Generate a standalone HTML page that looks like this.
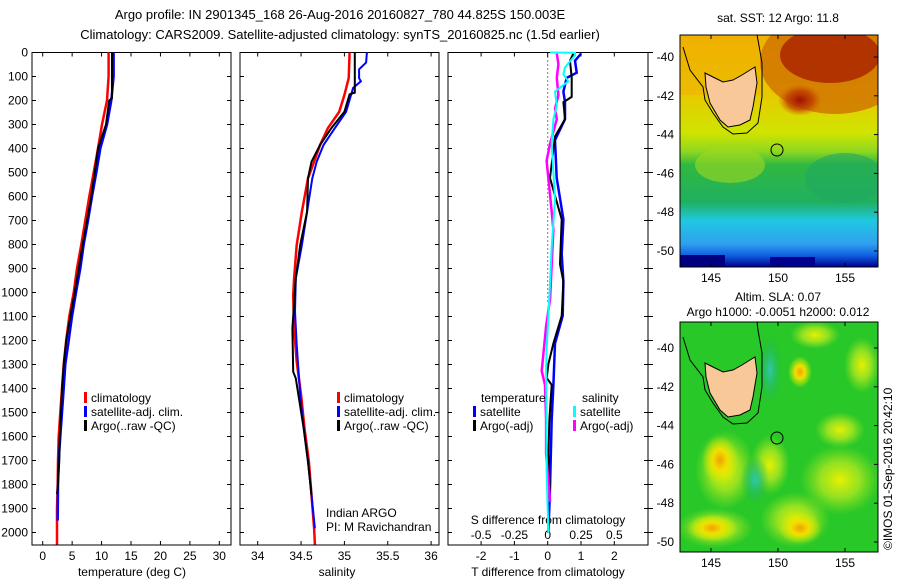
<!DOCTYPE html>
<html><head><meta charset="utf-8"><style>
body{margin:0;background:#fff;}
svg{display:block;font-family:"Liberation Sans",sans-serif;}
text{font-size:12px;fill:#000;}
</style></head><body>
<svg id="chart" width="900" height="580" viewBox="0 0 900 580" xmlns="http://www.w3.org/2000/svg">
<defs>
<linearGradient id="sstGrad" x1="0" y1="0" x2="0" y2="1">
<stop offset="0" stop-color="#f0b000"/>
<stop offset="0.25" stop-color="#e8c800"/>
<stop offset="0.42" stop-color="#d0e400"/>
<stop offset="0.5" stop-color="#90d820"/>
<stop offset="0.56" stop-color="#30b840"/>
<stop offset="0.72" stop-color="#20b060"/>
<stop offset="0.8" stop-color="#20c8e0"/>
<stop offset="0.9" stop-color="#30a0f0"/>
<stop offset="0.95" stop-color="#1060e0"/>
<stop offset="1" stop-color="#000090"/>
</linearGradient>
<radialGradient id="redBlob"><stop offset="0" stop-color="#a01000"/><stop offset="0.6" stop-color="#c04000" stop-opacity="0.8"/><stop offset="1" stop-color="#d06000" stop-opacity="0"/></radialGradient>
<radialGradient id="yelBlob"><stop offset="0" stop-color="#f0a000"/><stop offset="0.4" stop-color="#f0e000"/><stop offset="1" stop-color="#d0f000" stop-opacity="0"/></radialGradient>
<radialGradient id="ltBlob"><stop offset="0" stop-color="#e8f000"/><stop offset="0.5" stop-color="#b0e820" stop-opacity="0.8"/><stop offset="1" stop-color="#90e020" stop-opacity="0"/></radialGradient>
<radialGradient id="teaBlob"><stop offset="0" stop-color="#30c8b0"/><stop offset="1" stop-color="#20b050" stop-opacity="0"/></radialGradient>
<clipPath id="clipTop"><rect x="680" y="35" width="198" height="232"/></clipPath>
<clipPath id="clipBot"><rect x="680" y="322" width="198" height="230"/></clipPath>
</defs>

<text x="340" y="19" text-anchor="middle" style="font-size:13px">Argo profile: IN 2901345_168 26-Aug-2016 20160827_780 44.825S 150.003E</text>
<text x="340" y="39" text-anchor="middle" style="font-size:13px">Climatology: CARS2009. Satellite-adjusted climatology: synTS_20160825.nc (1.5d earlier)</text>

<g id="p1"></g>
<g id="p2"></g>
<g id="p3"></g>

<!-- SST map -->
<g>
<text x="778" y="22" text-anchor="middle">sat. SST: 12 Argo: 11.8</text>
<g clip-path="url(#clipTop)">
<rect x="680" y="35" width="198" height="232" fill="url(#sstGrad)"/>
<ellipse cx="835" cy="62" rx="75" ry="52" fill="#d07000" opacity="0.8"/>
<ellipse cx="830" cy="55" rx="50" ry="28" fill="#a82000" opacity="0.8"/>
<ellipse cx="800" cy="100" rx="22" ry="16" fill="url(#redBlob)"/>
<rect x="680" y="35" width="80" height="60" fill="#f0b000" opacity="0.5"/>
<ellipse cx="845" cy="178" rx="40" ry="25" fill="#20a860" opacity="0.6"/>
<ellipse cx="730" cy="165" rx="35" ry="18" fill="#a0d820" opacity="0.6"/>
<rect x="680" y="255" width="45" height="12" fill="#000080"/>
<rect x="770" y="257" width="45" height="10" fill="#000090"/>
<polygon points="705,73 713,77 723,82 733,80 742,75 750,70 755,67 757,83 753,107 750,120 740,125 728,127 720,120 710,103 706,87" fill="#f8c898" stroke="#000" stroke-width="1"/>
<polyline points="683,47 690,70 703,87 705,100 713,113 723,127 733,134 747,133 758,123 762,97 762,63 758,40 757,35" fill="none" stroke="#000" stroke-width="1"/>
<circle cx="777" cy="150" r="6" fill="none" stroke="#000" stroke-width="1"/>
</g>
<rect x="680" y="35" width="198" height="232" fill="none" stroke="#000"/>
</g>

<!-- SLA map -->
<g>
<text x="778" y="301" text-anchor="middle">Altim. SLA: 0.07</text>
<text x="778" y="316" text-anchor="middle">Argo h1000: -0.0051 h2000: 0.012</text>
<g clip-path="url(#clipBot)">
<rect x="680" y="322" width="198" height="230" fill="#28c828"/>
<ellipse cx="725" cy="470" rx="30" ry="40" fill="url(#ltBlob)"/>
<ellipse cx="720" cy="460" rx="18" ry="25" fill="url(#yelBlob)"/>
<ellipse cx="715" cy="528" rx="38" ry="20" fill="url(#ltBlob)"/>
<ellipse cx="712" cy="528" rx="25" ry="14" fill="url(#yelBlob)"/>
<ellipse cx="795" cy="520" rx="35" ry="28" fill="url(#ltBlob)"/>
<ellipse cx="800" cy="528" rx="22" ry="16" fill="url(#yelBlob)"/>
<ellipse cx="800" cy="372" rx="12" ry="16" fill="url(#yelBlob)"/>
<ellipse cx="815" cy="335" rx="25" ry="14" fill="url(#ltBlob)"/>
<ellipse cx="862" cy="365" rx="18" ry="28" fill="url(#ltBlob)"/>
<ellipse cx="840" cy="480" rx="40" ry="35" fill="url(#ltBlob)"/>
<ellipse cx="840" cy="430" rx="25" ry="18" fill="url(#ltBlob)"/>
<ellipse cx="770" cy="465" rx="20" ry="30" fill="url(#ltBlob)"/>
<ellipse cx="770" cy="370" rx="12" ry="35" fill="url(#teaBlob)"/>
<ellipse cx="755" cy="480" rx="14" ry="25" fill="url(#teaBlob)"/>
<polygon points="705,363 713,367 723,372 733,370 742,365 750,360 755,357 757,373 753,397 750,410 740,415 728,417 720,410 710,393 706,377" fill="#f8c898" stroke="#000" stroke-width="1"/>
<polyline points="683,337 690,360 703,377 705,390 713,403 723,417 733,424 747,423 758,413 762,387 762,353 758,330 757,322" fill="none" stroke="#000" stroke-width="1"/>
<circle cx="777" cy="438" r="6" fill="none" stroke="#000" stroke-width="1"/>
</g>
<rect x="680" y="322" width="198" height="230" fill="none" stroke="#000"/>
</g>
<g id="mapAxes"></g>
<text transform="translate(892,550) rotate(-90)" x="0" y="0">©IMOS 01-Sep-2016 20:42:10</text>

<script>
// ---- data ----
const depthTicks=[0,100,200,300,400,500,600,700,800,900,1000,1100,1200,1300,1400,1500,1600,1700,1800,1900,2000];
const tTicks=[0,5,10,15,20,25,30];
const sTicks=[34,34.5,35,35.5,36];
const dTTicks=[-2,-1,0,1,2];
const dSTicks=[-0.5,-0.25,0,0.25,0.5];
const dSLabels=["-0.5","-0.25","0","0.25","0.5"];

const tClimDepth=[0,100,200,300,400,500,600,700,800,900,1000,1100,1200,1300,1400,1500,1600,1700,1800,1900,2050];
const tClim=[11.2,11.2,10.92,10.07,9.39,8.66,7.92,7.24,6.56,5.82,5.26,4.52,4.0,3.56,3.28,2.99,2.71,2.6,2.54,2.43,2.43];
const tSatDepth=[0,100,200,300,400,500,600,700,800,900,1000,1100,1200,1300,1400,1500,1600,1700,1800,1950];
const tSat=[12.05,12.05,11.66,10.92,9.79,9.11,8.37,7.69,6.96,6.39,5.66,4.98,4.41,3.84,3.56,3.28,2.99,2.71,2.6,2.54];
const tArgoDepth=[0,100,190,200,300,400,500,600,700,800,900,1000,1100,1200,1300,1400,1500,1600,1700,1800,1840];
const tArgo=[11.77,11.77,11.77,11.3,10.75,9.39,8.83,8.26,7.52,6.79,6.11,5.43,4.69,4.0,3.56,3.28,3.11,2.88,2.82,2.6,2.43];

const sClimDepth=[0,107,177,247,315,385,455,524,663,802,941,1010,1149,1288,1427,1566,1705,1844,1983,2050];
const sClim=[35.06,35.05,35.0,34.94,34.81,34.72,34.65,34.58,34.51,34.45,34.42,34.41,34.42,34.45,34.50,34.54,34.59,34.62,34.65,34.66];
const sSatDepth=[0,42,70,107,120,148,247,315,385,455,524,663,802,941,1080,1218,1427,1566,1705,1844,1983];
const sSat=[35.26,35.25,35.17,35.17,35.19,35.10,35.02,34.89,34.76,34.68,34.63,34.57,34.51,34.44,34.43,34.45,34.49,34.53,34.58,34.62,34.66];
const sArgoDepth=[0,167,174,247,315,385,455,524,663,802,941,1149,1330,1358,1566,1705,1844];
const sArgo=[35.12,35.12,35.06,35.0,34.85,34.72,34.62,34.58,34.57,34.49,34.44,34.40,34.41,34.44,34.53,34.58,34.62];

const dTSatDepth=[5,34,84,106,163,207,278,365,523,695,839,954,1097,1212,1385,1528,1816,2002];
const dTSat=[1.0,0.82,0.87,0.57,0.47,0.52,0.52,0.22,0.27,0.47,0.42,0.47,0.45,0.22,0.17,0.12,0.07,0.02];
const dTArgoDepth=[5,34,106,185,207,278,350,523,695,882,954,1097,1212,1298,1356,1385,1528,1672,1816,1859];
const dTArgo=[0.77,0.67,0.72,0.72,0.47,0.52,0.22,0.07,0.42,0.37,0.47,0.42,0.17,0.02,-0.03,0.12,0.05,0.02,0.07,0.02];
const dSSatDepth=[0,1,12,62,91,120,163,221,278,379,609,810,954,1097,1241,1327,1528,1744,2002];
const dSSat=[0.018,0.205,0.205,0.13,0.118,0.155,0.055,0.068,0.043,0.03,0.055,0.03,0.018,0.005,-0.008,-0.012,-0.008,-0.008,0.005];
const dSArgoDepth=[5,48,106,177,235,278,379,451,595,739,882,1026,1141,1327,1385,1528,1672,1873];
const dSArgo=[0.068,0.08,0.068,0.08,0.055,0.068,0.018,-0.008,0.018,0.043,0.03,0.018,-0.012,-0.045,-0.02,-0.012,-0.012,0.018];

// ---- axes ----
const NS="http://www.w3.org/2000/svg";
const Y0=52.5, YS=0.24, YTOP=52.5, YBOT=545;
const yD=d=>Y0+d*YS;
const xT=v=>42.7+v*5.887;
const xS=v=>257.7+(v-34)*86.7;
const xDT=v=>547.7+v*33.3;
const xDS=v=>547.7+v*133.2;
function el(tag,attrs,parent,txt){const e=document.createElementNS(NS,tag);for(const k in attrs)e.setAttribute(k,attrs[k]);if(txt!==undefined)e.textContent=txt;parent.appendChild(e);return e;}
function line(depths,vals,xf,color,g,name,w){
  const pts=depths.map((d,i)=>xf(vals[i]).toFixed(1)+","+yD(d).toFixed(1)).join(" ");
  const p=el("polyline",{points:pts,fill:"none",stroke:color,"stroke-width":w||2.5},g);
  
  
}
function frame(g,x0,x1,name){
  const r=el("rect",{x:x0,y:YTOP,width:x1-x0,height:YBOT-YTOP,fill:"none",stroke:"#000"},g);
  
  
  depthTicks.forEach(d=>{el("line",{x1:x0,x2:x0+4,y1:yD(d),y2:yD(d),stroke:"#000"},g);el("line",{x1:x1,x2:x1-4,y1:yD(d),y2:yD(d),stroke:"#000"},g);});
}
function xticks(g,ticks,labels,xf,y,name){
  ticks.forEach((t,i)=>{
    el("line",{x1:xf(t),x2:xf(t),y1:YBOT,y2:YBOT-4,stroke:"#000"},g);
    el("line",{x1:xf(t),x2:xf(t),y1:YTOP,y2:YTOP+4,stroke:"#000"},g);
    const tx=el("text",{x:xf(t),y:y,"text-anchor":"middle"},g,labels[i]);
    
    
  });
}
function legend(g,x,y0,items){
  items.forEach((it,i)=>{
    const y=y0+i*14;
    el("rect",{x:x,y:y-10,width:3,height:11,fill:it[0]},g);
    const t=el("text",{x:x+7,y:y},g,it[1]);
    
    
  });
}
// panel 1
const p1=document.getElementById("p1");
frame(p1,32,231,"temperature-axes");
depthTicks.forEach(d=>{const t=el("text",{x:28,y:yD(d)+4,"text-anchor":"end"},p1,String(d));});
xticks(p1,tTicks,tTicks.map(String),xT,560,"temperature-tick-label");
el("text",{x:132,y:576,"text-anchor":"middle"},p1,"temperature (deg C)");
line(tClimDepth,tClim,xT,"#f00",p1,"temperature-climatology-line");
line(tSatDepth,tSat,xT,"#00f",p1,"temperature-satellite-line");
line(tArgoDepth,tArgo,xT,"#000",p1,"temperature-argo-line",2);
legend(p1,84,402,[["#f00","climatology"],["#00f","satellite-adj. clim."],["#000","Argo(..raw -QC)"]]);
// panel 2
const p2=document.getElementById("p2");
frame(p2,240,439,"salinity-axes");
xticks(p2,sTicks,sTicks.map(String),xS,560,"salinity-tick-label");
el("text",{x:337,y:576,"text-anchor":"middle"},p2,"salinity");
line(sClimDepth,sClim,xS,"#f00",p2,"salinity-climatology-line");
line(sSatDepth,sSat,xS,"#00f",p2,"salinity-satellite-line",2);
line(sArgoDepth,sArgo,xS,"#000",p2,"salinity-argo-line",2);
legend(p2,337,402,[["#f00","climatology"],["#00f","satellite-adj. clim."],["#000","Argo(..raw -QC)"]]);
el("text",{x:326,y:517},p2,"Indian ARGO");
el("text",{x:326,y:531},p2,"PI: M Ravichandran");
// panel 3
const p3=document.getElementById("p3");
frame(p3,448,648,"difference-axes");
depthTicks.forEach(d=>{el("line",{x1:648,x2:653,y1:yD(d),y2:yD(d),stroke:"#000"},p3);});
el("line",{x1:xDT(0),x2:xDT(0),y1:YTOP,y2:yD(1040),stroke:"#000","stroke-dasharray":"1,3"},p3);
xticks(p3,dTTicks,dTTicks.map(String),xDT,560,"t-difference-tick-label");
dSTicks.forEach((t,i)=>{const tx=el("text",{x:xDS(t),y:539,"text-anchor":"middle"},p3,dSLabels[i]);});
el("text",{x:548,y:524,"text-anchor":"middle"},p3,"S difference from climatology");
el("text",{x:548,y:576,"text-anchor":"middle"},p3,"T difference from climatology");
line(dTSatDepth,dTSat,xDT,"#00f",p3,"t-diff-satellite-line");
line(dTArgoDepth,dTArgo,xDT,"#000",p3,"t-diff-argo-line",2);
line(dSArgoDepth,dSArgo,xDS,"#f0f",p3,"s-diff-argo-line");
line(dSSatDepth,dSSat,xDS,"#0ff",p3,"s-diff-satellite-line",2);
el("text",{x:481,y:402},p3,"temperature");
el("text",{x:582,y:402},p3,"salinity");
legend(p3,473,416,[["#00f","satellite"],["#000","Argo(-adj)"]]);
legend(p3,573,416,[["#0ff","satellite"],["#f0f","Argo(-adj)"]]);
// map axes
const ma=document.getElementById("mapAxes");
const latTicks=[-40,-42,-44,-46,-48,-50];
const lonTicks=[145,150,155];
const xLon=v=>711+(v-145)*13.4;
[[57,282,35,267],[348,567,322,552]].forEach(([yl,ylab,yt,yb])=>{
  latTicks.forEach(l=>{const y=yl+(-40-l)*19.4;
    el("line",{x1:874,x2:878,y1:y,y2:y,stroke:"#000"},ma);
    const t=el("text",{x:674,y:y+4,"text-anchor":"end"},ma,String(l));});
  lonTicks.forEach(l=>{
    el("line",{x1:xLon(l),x2:xLon(l),y1:yt,y2:yt+4,stroke:"#000"},ma);
    el("line",{x1:xLon(l),x2:xLon(l),y1:yb,y2:yb-4,stroke:"#000"},ma);
    const t=el("text",{x:xLon(l),y:ylab,"text-anchor":"middle"},ma,String(l));});
});
</script>
</svg>
</body></html>
